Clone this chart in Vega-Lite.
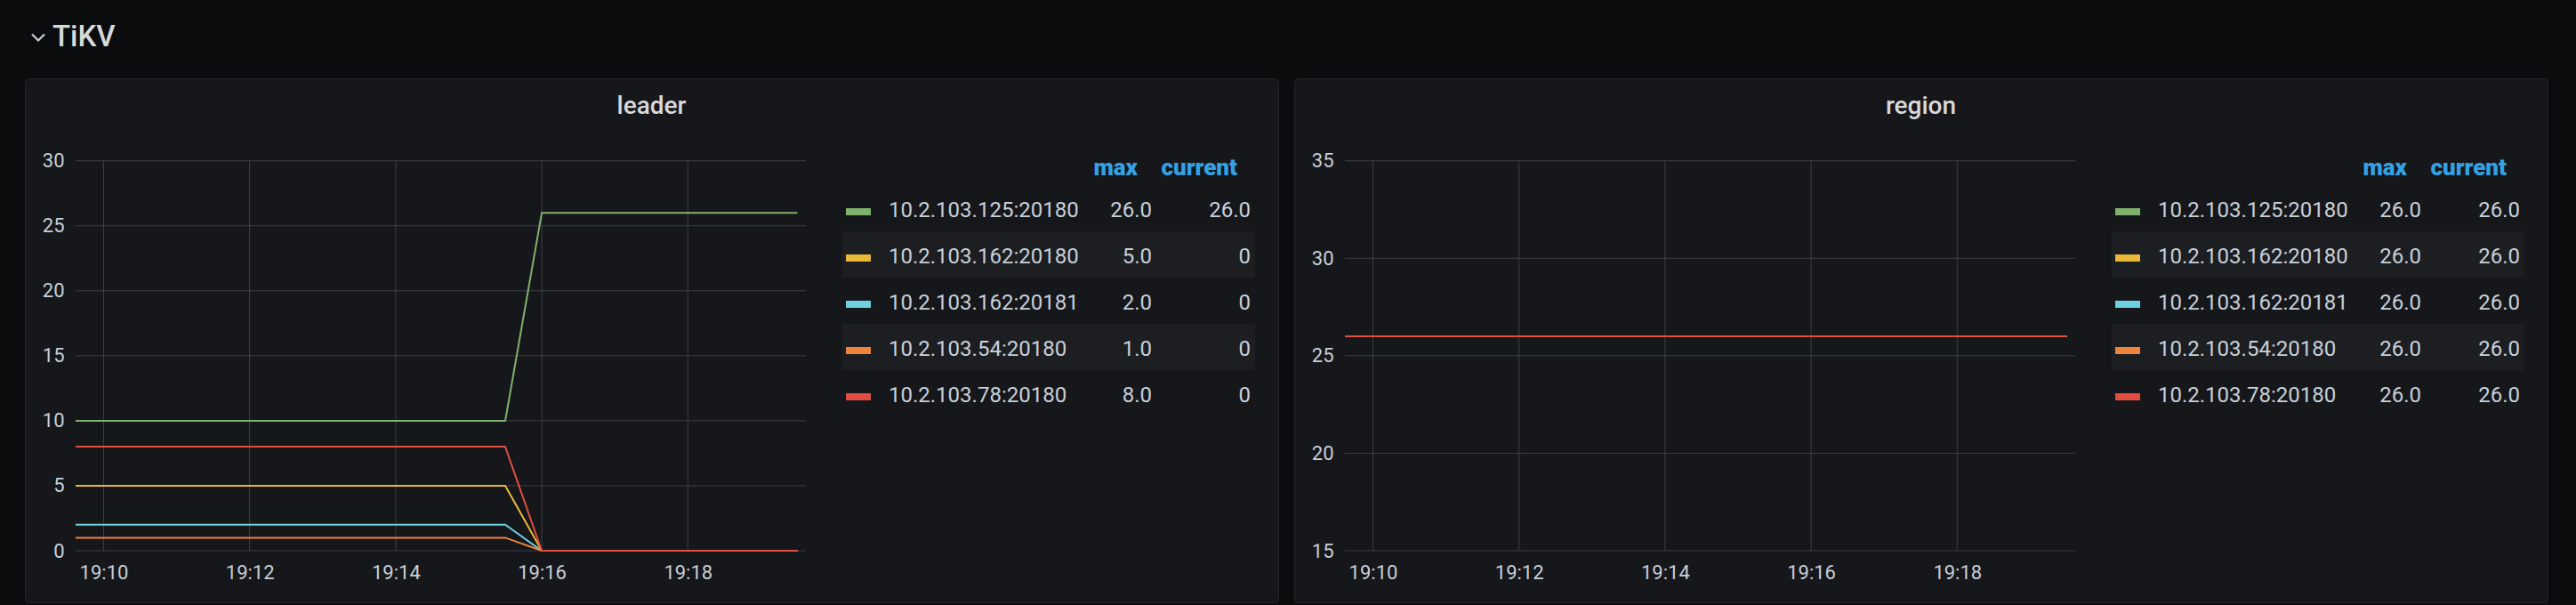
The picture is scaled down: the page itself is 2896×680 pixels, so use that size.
{
  "$schema": "https://vega.github.io/schema/vega-lite/v6.json",
  "background": "#0b0c0e",
  "padding": {"left": 27, "top": 0, "right": 33, "bottom": 3},
  "config": {
    "font": "Roboto",
    "view": {"stroke": null},
    "axis": {"labelFont": "Roboto", "labelFontSize": 22, "labelColor": "#c7d0d9", "grid": false, "domain": false, "ticks": false, "labelOverlap": false, "labelFlush": false, "labelBound": false, "title": null},
    "title": {"font": "Roboto", "fontSize": 28, "fontWeight": 500, "color": "#d8d9da"}
  },
  "datasets": {
    "leader": [
      {"t": "2021-06-01T19:09:30", "a": 10, "b": 5, "c": 2, "d": 1, "e": 8},
      {"t": "2021-06-01T19:10:00", "a": 10, "b": 5, "c": 2, "d": 1, "e": 8},
      {"t": "2021-06-01T19:10:30", "a": 10, "b": 5, "c": 2, "d": 1, "e": 8},
      {"t": "2021-06-01T19:11:00", "a": 10, "b": 5, "c": 2, "d": 1, "e": 8},
      {"t": "2021-06-01T19:11:30", "a": 10, "b": 5, "c": 2, "d": 1, "e": 8},
      {"t": "2021-06-01T19:12:00", "a": 10, "b": 5, "c": 2, "d": 1, "e": 8},
      {"t": "2021-06-01T19:12:30", "a": 10, "b": 5, "c": 2, "d": 1, "e": 8},
      {"t": "2021-06-01T19:13:00", "a": 10, "b": 5, "c": 2, "d": 1, "e": 8},
      {"t": "2021-06-01T19:13:30", "a": 10, "b": 5, "c": 2, "d": 1, "e": 8},
      {"t": "2021-06-01T19:14:00", "a": 10, "b": 5, "c": 2, "d": 1, "e": 8},
      {"t": "2021-06-01T19:14:30", "a": 10, "b": 5, "c": 2, "d": 1, "e": 8},
      {"t": "2021-06-01T19:15:00", "a": 10, "b": 5, "c": 2, "d": 1, "e": 8},
      {"t": "2021-06-01T19:15:30", "a": 10, "b": 5, "c": 2, "d": 1, "e": 8},
      {"t": "2021-06-01T19:16:00", "a": 26, "b": 0, "c": 0, "d": 0, "e": 0},
      {"t": "2021-06-01T19:16:30", "a": 26, "b": 0, "c": 0, "d": 0, "e": 0},
      {"t": "2021-06-01T19:17:00", "a": 26, "b": 0, "c": 0, "d": 0, "e": 0},
      {"t": "2021-06-01T19:17:30", "a": 26, "b": 0, "c": 0, "d": 0, "e": 0},
      {"t": "2021-06-01T19:18:00", "a": 26, "b": 0, "c": 0, "d": 0, "e": 0},
      {"t": "2021-06-01T19:18:30", "a": 26, "b": 0, "c": 0, "d": 0, "e": 0},
      {"t": "2021-06-01T19:19:00", "a": 26, "b": 0, "c": 0, "d": 0, "e": 0},
      {"t": "2021-06-01T19:19:30", "a": 26, "b": 0, "c": 0, "d": 0, "e": 0}
    ],
    "region": [
      {"t": "2021-06-01T19:09:30", "a": 26, "b": 26, "c": 26, "d": 26, "e": 26},
      {"t": "2021-06-01T19:10:00", "a": 26, "b": 26, "c": 26, "d": 26, "e": 26},
      {"t": "2021-06-01T19:10:30", "a": 26, "b": 26, "c": 26, "d": 26, "e": 26},
      {"t": "2021-06-01T19:11:00", "a": 26, "b": 26, "c": 26, "d": 26, "e": 26},
      {"t": "2021-06-01T19:11:30", "a": 26, "b": 26, "c": 26, "d": 26, "e": 26},
      {"t": "2021-06-01T19:12:00", "a": 26, "b": 26, "c": 26, "d": 26, "e": 26},
      {"t": "2021-06-01T19:12:30", "a": 26, "b": 26, "c": 26, "d": 26, "e": 26},
      {"t": "2021-06-01T19:13:00", "a": 26, "b": 26, "c": 26, "d": 26, "e": 26},
      {"t": "2021-06-01T19:13:30", "a": 26, "b": 26, "c": 26, "d": 26, "e": 26},
      {"t": "2021-06-01T19:14:00", "a": 26, "b": 26, "c": 26, "d": 26, "e": 26},
      {"t": "2021-06-01T19:14:30", "a": 26, "b": 26, "c": 26, "d": 26, "e": 26},
      {"t": "2021-06-01T19:15:00", "a": 26, "b": 26, "c": 26, "d": 26, "e": 26},
      {"t": "2021-06-01T19:15:30", "a": 26, "b": 26, "c": 26, "d": 26, "e": 26},
      {"t": "2021-06-01T19:16:00", "a": 26, "b": 26, "c": 26, "d": 26, "e": 26},
      {"t": "2021-06-01T19:16:30", "a": 26, "b": 26, "c": 26, "d": 26, "e": 26},
      {"t": "2021-06-01T19:17:00", "a": 26, "b": 26, "c": 26, "d": 26, "e": 26},
      {"t": "2021-06-01T19:17:30", "a": 26, "b": 26, "c": 26, "d": 26, "e": 26},
      {"t": "2021-06-01T19:18:00", "a": 26, "b": 26, "c": 26, "d": 26, "e": 26},
      {"t": "2021-06-01T19:18:30", "a": 26, "b": 26, "c": 26, "d": 26, "e": 26},
      {"t": "2021-06-01T19:19:00", "a": 26, "b": 26, "c": 26, "d": 26, "e": 26},
      {"t": "2021-06-01T19:19:30", "a": 26, "b": 26, "c": 26, "d": 26, "e": 26}
    ],
    "legL": [
      {"key": "a", "series": "10.2.103.125:20180", "max": "26.0", "cur": "26.0"},
      {"key": "b", "series": "10.2.103.162:20180", "max": "5.0", "cur": "0"},
      {"key": "c", "series": "10.2.103.162:20181", "max": "2.0", "cur": "0"},
      {"key": "d", "series": "10.2.103.54:20180", "max": "1.0", "cur": "0"},
      {"key": "e", "series": "10.2.103.78:20180", "max": "8.0", "cur": "0"}
    ],
    "legR": [
      {"key": "a", "series": "10.2.103.125:20180", "max": "26.0", "cur": "26.0"},
      {"key": "b", "series": "10.2.103.162:20180", "max": "26.0", "cur": "26.0"},
      {"key": "c", "series": "10.2.103.162:20181", "max": "26.0", "cur": "26.0"},
      {"key": "d", "series": "10.2.103.54:20180", "max": "26.0", "cur": "26.0"},
      {"key": "e", "series": "10.2.103.78:20180", "max": "26.0", "cur": "26.0"}
    ],
    "gyL": [{"v": 0}, {"v": 5}, {"v": 10}, {"v": 15}, {"v": 20}, {"v": 25}, {"v": 30}],
    "gyR": [{"v": 15}, {"v": 20}, {"v": 25}, {"v": 30}, {"v": 35}],
    "gx": [
      {"t": "2021-06-01T19:10:00"},
      {"t": "2021-06-01T19:12:00"},
      {"t": "2021-06-01T19:14:00"},
      {"t": "2021-06-01T19:16:00"},
      {"t": "2021-06-01T19:18:00"}
    ]
  },
  "bounds": "flush",
  "spacing": 0,
  "vconcat": [
    {
      "width": 2836,
      "height": 88,
      "data": {"values": [{}]},
      "layer": [
        {
          "mark": {"type": "point", "shape": "M-1,-0.5L0,0.5L1,-0.5", "size": 196, "filled": false, "strokeWidth": 2.2, "color": "#c7d0d9", "opacity": 1, "yOffset": -2},
          "encoding": {"x": {"datum": 15, "type": "quantitative", "scale": {"domain": [0, 2836], "range": [0, 2836], "nice": false, "zero": false}, "axis": null}}
        },
        {
          "mark": {"type": "text", "text": "TiKV", "align": "left", "baseline": "alphabetic", "dy": 8, "fontSize": 33, "fontWeight": 500, "color": "#d8d9da"},
          "encoding": {"x": {"datum": 31, "type": "quantitative", "axis": null}}
        }
      ]
    },
    {
      "hconcat": [
        {
          "width": 1409,
          "height": 589,
          "view": {"fill": "#16171b", "stroke": "#222428", "cornerRadius": 3},
          "title": {"text": "leader", "anchor": "middle", "frame": "group", "offset": -68, "baseline": "alphabetic"},
          "resolve": {"scale": {"x": "independent", "y": "independent"}},
          "layer": [
            {
              "layer": [
                {
                  "data": {"name": "gyL"},
                  "mark": {"type": "rule", "color": "#3d3f44", "strokeWidth": 1},
                  "encoding": {
                    "y": {"field": "v", "type": "quantitative", "scale": {"domain": [0, 30], "range": [531, 92.7], "nice": false, "zero": false}, "axis": {"orient": "left", "offset": -57, "values": [0, 5, 10, 15, 20, 25, 30], "labelPadding": 13}},
                    "x": {"datum": {"year": 2021, "month": 6, "date": 1, "hours": 19, "minutes": 9, "seconds": 37}, "type": "temporal", "scale": {"domain": [{"year": 2021, "month": 6, "date": 1, "hours": 19, "minutes": 9, "seconds": 37}, {"year": 2021, "month": 6, "date": 1, "hours": 19, "minutes": 19, "seconds": 37}], "range": [57, 878], "nice": false, "clamp": true}, "axis": {"orient": "bottom", "offset": -58, "format": "%H:%M", "labelPadding": 14, "values": [{"year": 2021, "month": 6, "date": 1, "hours": 19, "minutes": 10}, {"year": 2021, "month": 6, "date": 1, "hours": 19, "minutes": 12}, {"year": 2021, "month": 6, "date": 1, "hours": 19, "minutes": 14}, {"year": 2021, "month": 6, "date": 1, "hours": 19, "minutes": 16}, {"year": 2021, "month": 6, "date": 1, "hours": 19, "minutes": 18}]}},
                    "x2": {"datum": {"year": 2021, "month": 6, "date": 1, "hours": 19, "minutes": 19, "seconds": 37}}
                  }
                },
                {
                  "data": {"name": "gx"},
                  "mark": {"type": "rule", "color": "#3d3f44", "strokeWidth": 1},
                  "encoding": {
                    "x": {"field": "t", "type": "temporal"},
                    "y": {"datum": 0, "type": "quantitative"},
                    "y2": {"datum": 30}
                  }
                },
                {
                  "data": {"name": "leader"},
                  "transform": [{"fold": ["a", "b", "c", "d", "e"], "as": ["key", "value"]}],
                  "mark": {"type": "line", "strokeWidth": 2},
                  "encoding": {
                    "x": {"field": "t", "type": "temporal"},
                    "y": {"field": "value", "type": "quantitative"},
                    "color": {"field": "key", "type": "nominal", "scale": {"domain": ["a", "b", "c", "d", "e"], "range": ["#7eb26d", "#eab839", "#6ed0e0", "#ef843c", "#e24d42"]}, "legend": null}
                  }
                }
              ]
            },
            {
              "data": {"name": "legL"},
              "layer": [
                {
                  "transform": [{"filter": {"field": "key", "oneOf": ["b", "d"]}}],
                  "mark": {"type": "rect", "color": "#1c1e22"},
                  "encoding": {
                    "y": {"field": "key", "type": "nominal", "scale": {"type": "band", "domain": ["hdr", "a", "b", "c", "d", "e"], "range": [68, 380], "paddingInner": 0, "paddingOuter": 0}, "axis": null},
                    "x": {"datum": 0, "type": "quantitative", "scale": {"domain": [0, 464], "range": [919, 1383], "nice": false, "zero": false}, "axis": null},
                    "x2": {"datum": 464}
                  }
                },
                {
                  "mark": {"type": "point", "shape": "M-1,-0.286L1,-0.286L1,0.286L-1,0.286Z", "size": 784, "filled": true, "opacity": 1, "yOffset": 4},
                  "encoding": {
                    "y": {"field": "key", "type": "nominal", "axis": null},
                    "x": {"datum": 18, "type": "quantitative", "axis": null},
                    "color": {"field": "key", "type": "nominal", "legend": null}
                  }
                },
                {
                  "mark": {"type": "text", "align": "left", "baseline": "alphabetic", "dy": 10, "fontSize": 24, "color": "#c7d0d9"},
                  "encoding": {
                    "y": {"field": "key", "type": "nominal", "axis": null},
                    "x": {"datum": 52, "type": "quantitative", "axis": null},
                    "text": {"field": "series"}
                  }
                },
                {
                  "mark": {"type": "text", "align": "right", "baseline": "alphabetic", "dy": 10, "fontSize": 24, "color": "#c7d0d9"},
                  "encoding": {
                    "y": {"field": "key", "type": "nominal", "axis": null},
                    "x": {"datum": 348, "type": "quantitative", "axis": null},
                    "text": {"field": "max"}
                  }
                },
                {
                  "mark": {"type": "text", "align": "right", "baseline": "alphabetic", "dy": 10, "fontSize": 24, "color": "#c7d0d9"},
                  "encoding": {
                    "y": {"field": "key", "type": "nominal", "axis": null},
                    "x": {"datum": 459, "type": "quantitative", "axis": null},
                    "text": {"field": "cur"}
                  }
                },
                {
                  "data": {"values": [{}]},
                  "mark": {"type": "text", "text": "max", "align": "right", "baseline": "alphabetic", "dy": 15, "fontSize": 26, "fontWeight": 900, "color": "#33a2e5"},
                  "encoding": {
                    "y": {"datum": "hdr", "type": "nominal", "axis": null},
                    "x": {"datum": 332, "type": "quantitative", "axis": null}
                  }
                },
                {
                  "data": {"values": [{}]},
                  "mark": {"type": "text", "text": "current", "align": "right", "baseline": "alphabetic", "dy": 15, "fontSize": 26, "fontWeight": 900, "color": "#33a2e5"},
                  "encoding": {
                    "y": {"datum": "hdr", "type": "nominal", "axis": null},
                    "x": {"datum": 444, "type": "quantitative", "axis": null}
                  }
                }
              ]
            }
          ]
        },
        {
          "width": 1409,
          "height": 589,
          "view": {"fill": "#16171b", "stroke": "#222428", "cornerRadius": 3},
          "title": {"text": "region", "anchor": "middle", "frame": "group", "offset": -68, "baseline": "alphabetic"},
          "resolve": {"scale": {"x": "independent", "y": "independent"}},
          "layer": [
            {
              "layer": [
                {
                  "data": {"name": "gyR"},
                  "mark": {"type": "rule", "color": "#3d3f44", "strokeWidth": 1},
                  "encoding": {
                    "y": {"field": "v", "type": "quantitative", "scale": {"domain": [15, 35], "range": [531, 92.7], "nice": false, "zero": false}, "axis": {"orient": "left", "offset": -57, "values": [15, 20, 25, 30, 35], "labelPadding": 13}},
                    "x": {"datum": {"year": 2021, "month": 6, "date": 1, "hours": 19, "minutes": 9, "seconds": 37}, "type": "temporal", "scale": {"domain": [{"year": 2021, "month": 6, "date": 1, "hours": 19, "minutes": 9, "seconds": 37}, {"year": 2021, "month": 6, "date": 1, "hours": 19, "minutes": 19, "seconds": 37}], "range": [57, 878], "nice": false, "clamp": true}, "axis": {"orient": "bottom", "offset": -58, "format": "%H:%M", "labelPadding": 14, "values": [{"year": 2021, "month": 6, "date": 1, "hours": 19, "minutes": 10}, {"year": 2021, "month": 6, "date": 1, "hours": 19, "minutes": 12}, {"year": 2021, "month": 6, "date": 1, "hours": 19, "minutes": 14}, {"year": 2021, "month": 6, "date": 1, "hours": 19, "minutes": 16}, {"year": 2021, "month": 6, "date": 1, "hours": 19, "minutes": 18}]}},
                    "x2": {"datum": {"year": 2021, "month": 6, "date": 1, "hours": 19, "minutes": 19, "seconds": 37}}
                  }
                },
                {
                  "data": {"name": "gx"},
                  "mark": {"type": "rule", "color": "#3d3f44", "strokeWidth": 1},
                  "encoding": {
                    "x": {"field": "t", "type": "temporal"},
                    "y": {"datum": 15, "type": "quantitative"},
                    "y2": {"datum": 35}
                  }
                },
                {
                  "data": {"name": "region"},
                  "transform": [{"fold": ["a", "b", "c", "d", "e"], "as": ["key", "value"]}],
                  "mark": {"type": "line", "strokeWidth": 2},
                  "encoding": {
                    "x": {"field": "t", "type": "temporal"},
                    "y": {"field": "value", "type": "quantitative"},
                    "color": {"field": "key", "type": "nominal", "scale": {"domain": ["a", "b", "c", "d", "e"], "range": ["#7eb26d", "#eab839", "#6ed0e0", "#ef843c", "#e24d42"]}, "legend": null}
                  }
                }
              ]
            },
            {
              "data": {"name": "legR"},
              "layer": [
                {
                  "transform": [{"filter": {"field": "key", "oneOf": ["b", "d"]}}],
                  "mark": {"type": "rect", "color": "#1c1e22"},
                  "encoding": {
                    "y": {"field": "key", "type": "nominal", "scale": {"type": "band", "domain": ["hdr", "a", "b", "c", "d", "e"], "range": [68, 380], "paddingInner": 0, "paddingOuter": 0}, "axis": null},
                    "x": {"datum": 0, "type": "quantitative", "scale": {"domain": [0, 464], "range": [919, 1383], "nice": false, "zero": false}, "axis": null},
                    "x2": {"datum": 464}
                  }
                },
                {
                  "mark": {"type": "point", "shape": "M-1,-0.286L1,-0.286L1,0.286L-1,0.286Z", "size": 784, "filled": true, "opacity": 1, "yOffset": 4},
                  "encoding": {
                    "y": {"field": "key", "type": "nominal", "axis": null},
                    "x": {"datum": 18, "type": "quantitative", "axis": null},
                    "color": {"field": "key", "type": "nominal", "legend": null}
                  }
                },
                {
                  "mark": {"type": "text", "align": "left", "baseline": "alphabetic", "dy": 10, "fontSize": 24, "color": "#c7d0d9"},
                  "encoding": {
                    "y": {"field": "key", "type": "nominal", "axis": null},
                    "x": {"datum": 52, "type": "quantitative", "axis": null},
                    "text": {"field": "series"}
                  }
                },
                {
                  "mark": {"type": "text", "align": "right", "baseline": "alphabetic", "dy": 10, "fontSize": 24, "color": "#c7d0d9"},
                  "encoding": {
                    "y": {"field": "key", "type": "nominal", "axis": null},
                    "x": {"datum": 348, "type": "quantitative", "axis": null},
                    "text": {"field": "max"}
                  }
                },
                {
                  "mark": {"type": "text", "align": "right", "baseline": "alphabetic", "dy": 10, "fontSize": 24, "color": "#c7d0d9"},
                  "encoding": {
                    "y": {"field": "key", "type": "nominal", "axis": null},
                    "x": {"datum": 459, "type": "quantitative", "axis": null},
                    "text": {"field": "cur"}
                  }
                },
                {
                  "data": {"values": [{}]},
                  "mark": {"type": "text", "text": "max", "align": "right", "baseline": "alphabetic", "dy": 15, "fontSize": 26, "fontWeight": 900, "color": "#33a2e5"},
                  "encoding": {
                    "y": {"datum": "hdr", "type": "nominal", "axis": null},
                    "x": {"datum": 332, "type": "quantitative", "axis": null}
                  }
                },
                {
                  "data": {"values": [{}]},
                  "mark": {"type": "text", "text": "current", "align": "right", "baseline": "alphabetic", "dy": 15, "fontSize": 26, "fontWeight": 900, "color": "#33a2e5"},
                  "encoding": {
                    "y": {"datum": "hdr", "type": "nominal", "axis": null},
                    "x": {"datum": 444, "type": "quantitative", "axis": null}
                  }
                }
              ]
            }
          ]
        }
      ],
      "spacing": 18,
      "bounds": "flush"
    }
  ]
}
